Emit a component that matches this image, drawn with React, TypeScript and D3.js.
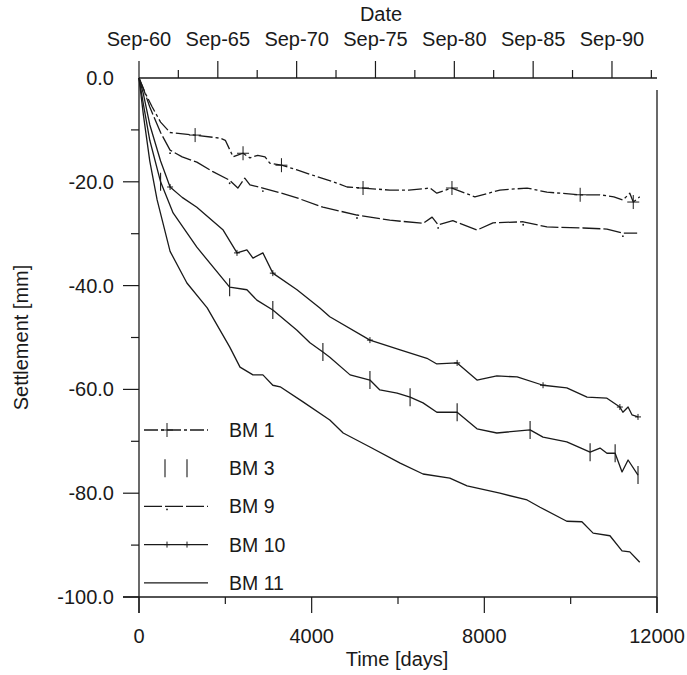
import React from "react";
import * as d3 from "d3";

// ---------- data ----------
const seriesNames = ["BM 1", "BM 3", "BM 9", "BM 10", "BM 11"];

const bm1Days = [0, 150, 300, 500, 720, 1300, 1880, 2000, 2180, 2300, 2410, 2570, 2750, 2920, 3030, 3300, 3660, 4120, 4500, 4820, 5190, 5810, 6250, 6740, 6900, 7250, 7780, 8360, 8990, 9450, 10220, 10680, 11000, 11210, 11370, 11450, 11600];
const bm1Settle = [0, -3, -5.5, -8.5, -10.5, -11, -11.6, -12, -15.2, -14.8, -14.5, -15.4, -14.9, -15.2, -16.4, -16.8, -17.7, -19, -20, -21, -21.2, -21.6, -21.6, -21.2, -22.2, -21.2, -22.9, -21.6, -21.2, -22, -22.5, -22.5, -22.9, -23.5, -22.2, -23.9, -22.9];

const bm9Days = [0, 100, 250, 500, 720, 1000, 1340, 1700, 2100, 2290, 2450, 2570, 2870, 3300, 3660, 4260, 5050, 5810, 6580, 6790, 6930, 7270, 7830, 8200, 8900, 9450, 10290, 10840, 11210, 11540];
const bm9Settle = [0, -2, -5.6, -10.5, -13.9, -15.2, -16.2, -18, -19.7, -21.2, -19.3, -20.6, -21.2, -22.2, -23.1, -24.9, -26.4, -27.4, -28, -26.8, -28.3, -27.5, -29.3, -27.9, -27.7, -28.7, -28.9, -29.1, -29.9, -29.9];

const bm10Days = [0, 100, 250, 500, 720, 1000, 1340, 1950, 2270, 2500, 2640, 2870, 3100, 3660, 4190, 4420, 5350, 6050, 6670, 6900, 7370, 7830, 8290, 8760, 9360, 9910, 10380, 10840, 11140, 11210, 11330, 11420, 11560];
const bm10Settle = [0, -3, -9, -16, -21, -23, -24.9, -29.3, -33.7, -33.1, -34.7, -33.7, -37.6, -40.8, -44.3, -46, -50.5, -52.4, -54, -55.1, -54.9, -58.2, -57.4, -57.6, -59.2, -59.7, -61.5, -61.7, -63.4, -64.4, -63.4, -64.9, -65.3];

const bm3Days = [0, 100, 250, 500, 790, 1340, 2100, 2500, 2730, 3100, 3660, 3960, 4260, 4420, 4890, 5350, 5580, 5980, 6280, 6580, 6900, 7370, 7830, 8290, 9060, 9360, 9910, 10450, 10680, 10840, 11030, 11190, 11330, 11560];
const bm3Settle = [0, -5, -12, -20, -26, -32.6, -40.3, -40.8, -42.8, -44.7, -48.6, -51, -52.8, -53.8, -57.2, -58.2, -60.1, -60.7, -61.5, -62.6, -64.4, -64.4, -67.6, -68.4, -67.8, -69.2, -70.1, -72.1, -71.3, -72.3, -72.3, -75.9, -73.6, -76.5];

const bm11Days = [0, 100, 250, 420, 720, 1110, 1580, 2100, 2340, 2640, 2870, 3100, 3270, 3800, 4420, 4730, 5350, 6050, 6580, 7200, 7600, 8360, 8990, 9290, 9910, 10260, 10520, 10910, 11190, 11370, 11600];
const bm11Settle = [0, -7, -16, -23.5, -33.4, -39.5, -44.3, -51.8, -55.7, -57.2, -57.2, -59.2, -59.5, -62.4, -65.9, -68.4, -71.1, -74.2, -76.3, -77.1, -78.6, -80, -81.3, -82.7, -85.4, -85.5, -87.7, -88.2, -91.1, -91.3, -93.3];

const xTicks = [0, 2000, 4000, 6000, 8000, 10000, 12000];
const xTickLabels = ["0", "4000", "8000", "12000"];
const yTicks = [0, -10, -20, -30, -40, -50, -60, -70, -80, -90, -100];
const yTickLabels = ["0.0", "-20.0", "-40.0", "-60.0", "-80.0", "-100.0"];
const dateTickLabels = ["Sep-60", "Sep-65", "Sep-70", "Sep-75", "Sep-80", "Sep-85", "Sep-90"];
const dateTickYears = [0, 2.5, 5, 7.5, 10, 12.5, 15, 17.5, 20, 22.5, 25, 27.5, 30, 32.5];

// ---------- layout ----------
const W = 687;
const H = 675;
const X0 = 139, X1 = 657, Y0 = 78, Y1 = 597;
const FONT = "'Liberation Sans', Arial, sans-serif";
const INK = "#1a1a1a";

type Marker = "plus" | "bar" | "smallplus" | "dot" | "none";

interface Series {
  name: string;
  days: number[];
  settle: number[];
  marker: Marker;
  dash?: string;
  every: number;
}

const series: Series[] = [
  { name: seriesNames[0], days: bm1Days, settle: bm1Settle, marker: "plus", dash: "14,3,3,3", every: 5 },
  { name: seriesNames[1], days: bm3Days, settle: bm3Settle, marker: "bar", every: 3 },
  { name: seriesNames[2], days: bm9Days, settle: bm9Settle, marker: "dot", dash: "18,3", every: 4 },
  { name: seriesNames[3], days: bm10Days, settle: bm10Settle, marker: "smallplus", every: 4 },
  { name: seriesNames[4], days: bm11Days, settle: bm11Settle, marker: "none", every: 100 },
];

function MarkerShape({ kind, x, y }: { kind: Marker; x: number; y: number }) {
  if (kind === "plus")
    return (
      <g stroke={INK} strokeWidth={1}>
        <line x1={x - 6} x2={x + 6} y1={y} y2={y} />
        <line x1={x} x2={x} y1={y - 7} y2={y + 7} />
      </g>
    );
  if (kind === "bar")
    return <line x1={x} x2={x} y1={y - 9} y2={y + 9} stroke={INK} strokeWidth={1.1} />;
  if (kind === "smallplus")
    return (
      <g stroke={INK} strokeWidth={1}>
        <line x1={x - 3} x2={x + 3} y1={y} y2={y} />
        <line x1={x} x2={x} y1={y - 3} y2={y + 3} />
      </g>
    );
  if (kind === "dot") return <circle cx={x} cy={y + 3} r={0.9} fill={INK} />;
  return null;
}

export default function App() {
  const x = d3.scaleLinear().domain([0, 12000]).range([X0, X1]);
  const y = d3.scaleLinear().domain([0, -100]).range([Y0, Y1]);
  const startDate = new Date(1960, 8, 1);
  const xTime = d3
    .scaleTime()
    .domain([startDate, d3.timeDay.offset(startDate, 12000)])
    .range([X0, X1]);

  const line = d3
    .line<[number, number]>()
    .x((d) => x(d[0]))
    .y((d) => y(d[1]));

  const legendY = (i: number) => 430 + i * 38.2;

  return (
    <svg
      width={W}
      height={H}
      style={{ position: "absolute", left: 0, top: 0, background: "#fff" }}
      fontFamily={FONT}
    >
      <rect width={W} height={H} fill="#fff" />

      {/* frame */}
      <g stroke={INK} strokeWidth={1.3} fill="none">
        <line x1={X0} x2={X1} y1={Y0} y2={Y0} />
        <line x1={X0} x2={X0} y1={Y0} y2={Y1 + 16} />
        <line x1={X0 - 16} x2={X1} y1={Y1} y2={Y1} />
        <line x1={X1} x2={X1} y1={Y0 + 12} y2={Y1 + 16} />
      </g>

      {/* bottom axis */}
      <g stroke={INK} strokeWidth={1.2}>
        {xTicks.map((t, i) => (
          <line key={t} x1={x(t)} x2={x(t)} y1={Y1} y2={Y1 + (i % 2 === 0 ? 16 : 7)} />
        ))}
      </g>
      <g fontSize={20} fill={INK} textAnchor="middle">
        {xTickLabels.map((l) => (
          <text key={l} x={x(+l)} y={643}>
            {l}
          </text>
        ))}
        <text x={(X0 + X1) / 2 - 1} y={666}>
          Time [days]
        </text>
      </g>

      {/* left axis */}
      <g stroke={INK} strokeWidth={1.2}>
        {yTicks.map((v, i) =>
          v === 0 ? null : (
            <line key={v} x1={X0 - (i % 2 === 0 ? 16 : 8)} x2={X0} y1={y(v)} y2={y(v)} />
          )
        )}
      </g>
      <g fontSize={20} fill={INK} textAnchor="end">
        {yTickLabels.map((l) => (
          <text key={l} x={114} y={y(+l) + 7}>
            {l}
          </text>
        ))}
      </g>
      <text
        transform={`translate(28,${(Y0 + Y1) / 2}) rotate(-90)`}
        textAnchor="middle"
        fontSize={20}
        fill={INK}
      >
        Settlement [mm]
      </text>

      {/* top date axis */}
      <g stroke={INK} strokeWidth={1.2}>
        {dateTickYears.map((yr, i) => {
          const d = d3.timeMonth.offset(startDate, Math.round(yr * 12));
          const px = xTime(d);
          return <line key={yr} x1={px} x2={px} y1={Y0} y2={Y0 - (i % 2 === 0 ? 17 : 8)} />;
        })}
      </g>
      <g fontSize={20} fill={INK} textAnchor="middle">
        {dateTickLabels.map((l, i) => {
          const d = d3.timeMonth.offset(startDate, i * 60);
          return (
            <text key={l} x={xTime(d)} y={46}>
              {l}
            </text>
          );
        })}
        <text x={381} y={21}>
          Date
        </text>
      </g>

      {/* series */}
      {series.map((s) => {
        const pts: [number, number][] = s.days.map((d, i) => [d, s.settle[i]]);
        return (
          <g key={s.name}>
            <path
              d={line(pts) || ""}
              fill="none"
              stroke={INK}
              strokeWidth={1.3}
              strokeDasharray={s.dash}
              strokeLinejoin="round"
            />
            {pts.map((p, i) =>
              i > 0 && i % s.every === 0 ? (
                <MarkerShape key={i} kind={s.marker} x={x(p[0])} y={y(p[1])} />
              ) : null
            )}
          </g>
        );
      })}

      {/* legend */}
      {series.map((s, i) => {
        const ly = legendY(i);
        return (
          <g key={s.name}>
            {s.marker !== "bar" && (
              <line
                x1={144}
                x2={208}
                y1={ly}
                y2={ly}
                stroke={INK}
                strokeWidth={1.3}
                strokeDasharray={s.dash}
              />
            )}
            {s.marker === "bar" ? (
              <>
                <MarkerShape kind="bar" x={165} y={ly} />
                <MarkerShape kind="bar" x={187} y={ly} />
              </>
            ) : s.marker === "none" ? null : (
              <>
                <MarkerShape kind={s.marker} x={167} y={ly} />
                {s.marker === "smallplus" && <MarkerShape kind={s.marker} x={187} y={ly} />}
              </>
            )}
            <text x={229} y={ly + 7} fontSize={19.5} fill={INK}>
              {s.name}
            </text>
          </g>
        );
      })}
    </svg>
  );
}
